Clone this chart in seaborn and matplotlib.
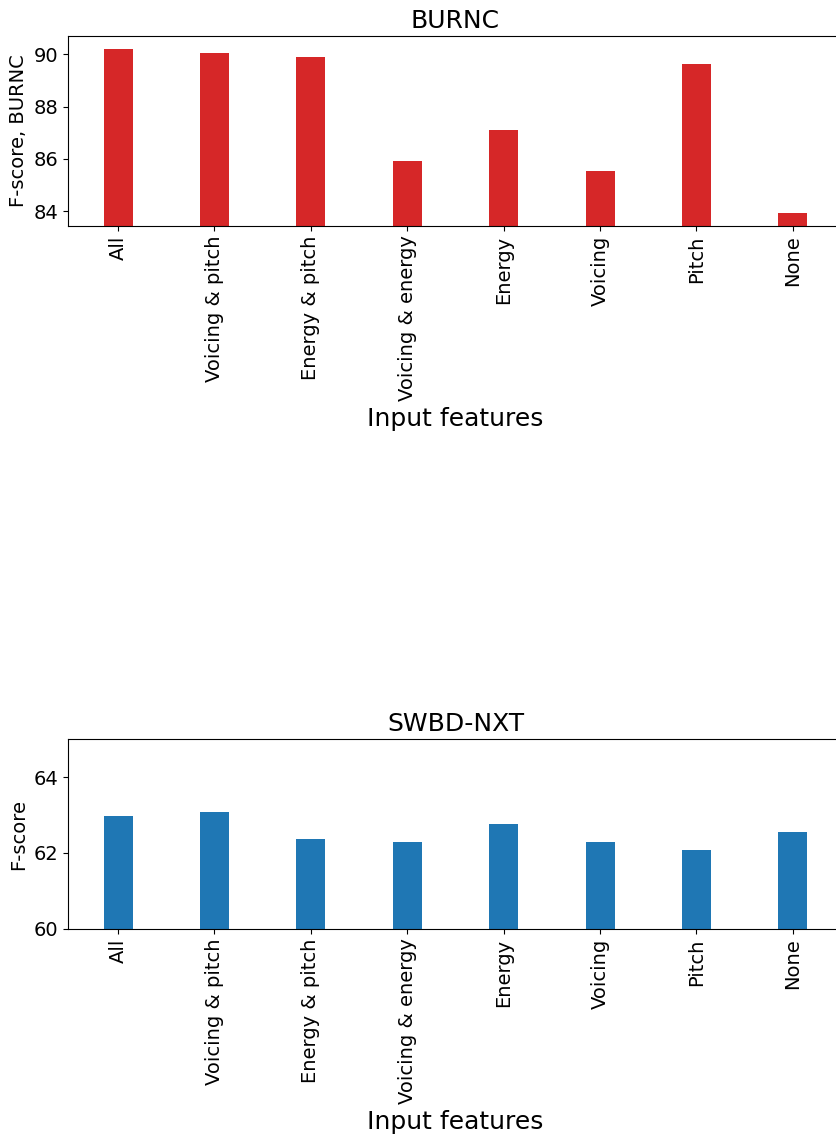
import matplotlib
matplotlib.use("Agg")
import matplotlib.pyplot as plt
import seaborn as sns
import pandas as pd

features = ["All", "Voicing & pitch", "Energy & pitch", "Voicing & energy",
            "Energy", "Voicing", "Pitch", "None"]
burnc_scores = [90.19, 90.04, 89.90, 85.92, 87.11, 85.53, 89.65, 83.95]
swbd_scores = [62.97, 63.09, 62.38, 62.29, 62.77, 62.29, 62.07, 62.56]

W, H, DPI = 837, 1135, 100
fig = plt.figure(figsize=(W / DPI, H / DPI), dpi=DPI)

left = 68.4 / W
width = 774.1 / W
height = 189.4 / H
ax_top = fig.add_axes([left, 1 - 225.7 / H, width, height])
ax_bot = fig.add_axes([left, 1 - 928.7 / H, width, height])

panels = [
    (ax_top, burnc_scores, "#d62728", "BURNC", "F-score, BURNC",
     (min(burnc_scores) - 0.5, max(burnc_scores) + 0.5), [84, 86, 88, 90]),
    (ax_bot, swbd_scores, "#1f77b4", "SWBD-NXT", "F-score",
     (60, 65), [60, 62, 64]),
]

for ax, scores, color, title, ylabel, ylim, yticks in panels:
    df = pd.DataFrame({"feature": features, "score": scores})
    sns.barplot(data=df, x="feature", y="score", color=color,
                saturation=1, width=0.3, ax=ax)
    ax.set_xlim(-0.515, 7.515)
    ax.set_ylim(*ylim)
    ax.set_yticks(yticks)
    ax.set_title(title, fontsize=18)
    ax.set_ylabel(ylabel, fontsize=14)
    ax.set_xlabel("Input features", fontsize=18)
    ax.tick_params(axis="x", labelrotation=90, labelsize=14)
    ax.tick_params(axis="y", labelsize=14)

fig.savefig("out.png", dpi=DPI)
